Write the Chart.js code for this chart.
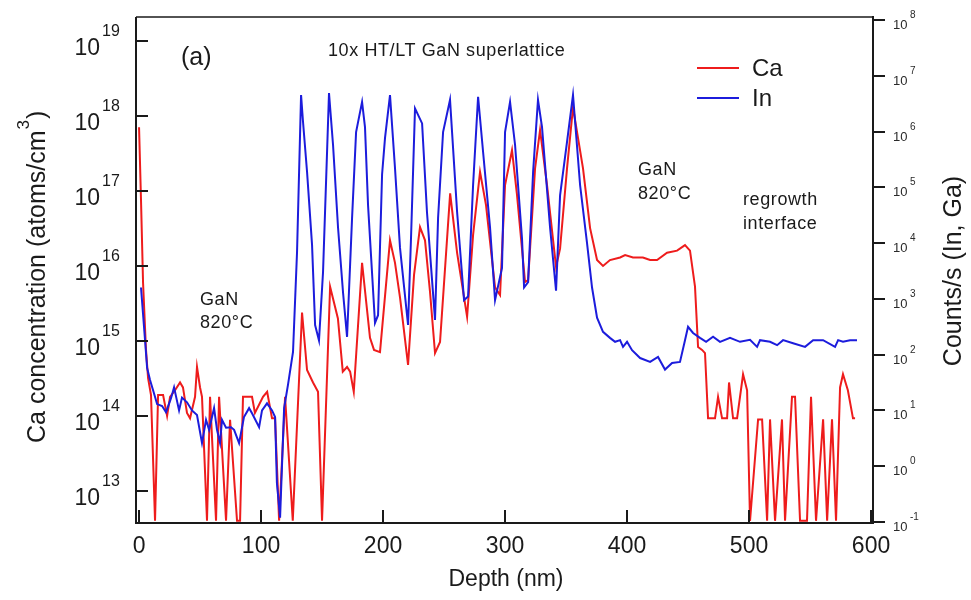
<!DOCTYPE html>
<html>
<head>
<meta charset="utf-8">
<script src="https://cdn.jsdelivr.net/npm/chart.js@4.4.1/dist/chart.umd.min.js"></script>
<style>
  html, body { margin: 0; padding: 0; background: #fff; }
  #wrap { width: 971px; height: 600px; }
</style>
</head>
<body>
<div id="wrap"><canvas id="sims" width="971" height="600"></canvas></div>
<script>
// --- data ---
const depthCa = [0, 1.6, 3.3, 5.7, 7.4, 9.8, 13.1, 15.6, 19.7, 23, 25.4, 29.5, 33.6, 36, 39.3, 41.8, 45.9, 47.5, 50, 51.6,
  55.7, 58.2, 63.1, 65.6, 71.3, 74.6, 80.3, 82.8, 85.2, 92.6, 95, 101.6, 105, 109, 111.5, 114.8, 119.7, 126,
  133.6, 137.7, 142.6, 146.7, 150, 156.6, 163, 167, 170.5, 173, 176, 182.8, 189.3, 192.6, 197.5, 205.7, 209.8, 214,
  220.5, 225.4, 230.3, 234.4, 238.5, 242.6, 246.7, 255, 260.7, 268.9, 273.8, 279.5, 284.4, 291.8, 295.9, 300, 305.7,
  309.8, 316.4, 318.9, 324.6, 328.7, 334.4, 341.8, 345.1, 350.8, 355.7, 363.9, 369.7, 375.4, 380.3, 386, 394.3, 398.4,
  404.9, 413, 418.9, 424.6, 432.8, 441, 447.5, 451.6, 455.7, 458.2, 461.5, 463.9, 466.4, 472.1, 474.6, 477.9, 482,
  483.6, 486.9, 490.2, 495.1, 498.4, 500.8, 507.4, 510.7, 514.8, 517.2, 521.3, 527, 529.5, 535.2, 537.7, 541.8, 547.5,
  550.8, 554.9, 560.7, 564, 568, 571.3, 574.6, 577, 581, 585.2, 586.9];
const caConc = [7.1e17, 7.6e16, 5.9e15, 7.6e14, 3.2e14, 1.9e14, 4e12, 1.9e14, 1.9e14, 1.0e14, 1.8e14, 2.2e14, 2.8e14, 2.4e14, 1.1e14, 9.3e13, 1.8e14, 4.5e14, 2.4e14, 1.8e14,
  4e12, 1.8e14, 4e12, 1.8e14, 4e12, 8.9e13, 4e12, 4e12, 1.8e14, 1.8e14, 1.1e14, 1.8e14, 2.1e14, 9.3e13, 9.3e13, 4e12, 1.8e14, 4e12,
  2.4e15, 4.1e14, 2.8e14, 2.1e14, 4e12, 5.3e15, 2.0e15, 3.9e14, 4.5e14, 3.9e14, 2.1e14, 1.1e16, 1.1e15, 7.6e14, 7.1e14, 2.2e16, 1.1e16, 3.7e15,
  4.8e14, 7.6e15, 3.3e16, 2.2e16, 4.5e15, 6.9e14, 9.7e14, 9.3e16, 1.5e16, 2.1e15, 2.6e16, 1.8e17, 6.5e16, 5.2e15, 4.1e15, 1.2e17, 3.5e17,
  8.9e16, 6.1e15, 6.5e15, 2.0e17, 6.5e17, 1.2e17, 9.7e15, 1.7e16, 2.0e17, 1.3e18, 2.0e17, 3.2e16, 1.2e16, 1.0e16, 1.2e16, 1.3e16, 1.4e16,
  1.3e16, 1.3e16, 1.2e16, 1.2e16, 1.5e16, 1.6e16, 1.9e16, 1.6e16, 5.3e15, 8.3e14, 7.6e14, 6.9e14, 9.3e13, 9.3e13, 1.8e14, 9.3e13, 9.3e13,
  2.8e14, 9.3e13, 9.3e13, 3.6e14, 2.2e14, 4e12, 9e13, 9e13, 4e12, 9e13, 4e12, 9e13, 4e12, 1.8e14, 1.8e14, 4e12, 4e12,
  1.8e14, 4e12, 9e13, 4e12, 9e13, 4e12, 2.4e14, 3.6e14, 2.2e14, 9.3e13, 9.3e13];

const depthIn = [1.6, 4.9, 6.6, 9, 11.5, 14.8, 18.9, 22.1, 26.2, 28.7, 32.8, 35.2, 39.3, 43.4, 47.5, 51.6, 54.9, 57.4, 61.5, 63.9,
  66.4, 68, 71.3, 75.4, 77.9, 82, 86, 90.2, 92.6, 98.4, 100.8, 104.9, 109, 111.5, 113, 115.6, 118.9, 122.1, 126.2, 129.5,
  132.8, 134.4, 137.7, 141.8, 144.3, 147.5, 150.8, 154.1, 155.7, 159, 163.1, 167.2, 170.5, 174.6, 177.9, 182.8, 185.2, 187.7,
  193.4, 195.9, 199.2, 201.6, 205.7, 209.8, 213.9, 220.5, 223, 226.2, 232, 236, 242.6, 245.1, 249.2, 254.9, 260.7, 266.4,
  269.7, 273.8, 277.9, 282, 287.7, 291.8, 297.5, 300, 304.1, 308.2, 313.9, 315.6, 318.9, 323, 327, 330.3, 336.9, 341.8,
  345.1, 350.8, 355.7, 361.5, 367.2, 371.3, 375.4, 380.3, 386, 390.2, 394.3, 396.7, 400, 404.1, 410.7, 418.9, 425.4, 431.1,
  436.9, 443.4, 447.5, 450, 454.1, 459.8, 464.8, 470.5, 476.2, 484.4, 492.6, 500.8, 506.6, 509, 517.2, 523, 527.9, 536.1,
  545.9, 552.5, 560.7, 570.5, 573, 577, 582.8, 588.5];
const inCounts = [1.6e3, 183, 58, 35, 23, 13, 12, 9.3, 16.6, 26, 10, 17, 14, 10, 8.3, 2.6, 6.8, 4.5, 11, 4.5,
  2.6, 6.8, 4.9, 5.0, 4.5, 2.6, 7.6, 11, 8.9, 5.0, 10, 13.4, 10, 7.6, 0.5, 0.12, 11, 29, 112, 6.9e3,
  4.5e6, 1.5e6, 1.9e5, 9.3e3, 340, 180, 3.0e3, 4.3e5, 4.9e6, 5.8e5, 1.9e4, 1.3e3, 208, 2.8e4, 9.8e5, 3.4e6, 1.2e6, 4.8e4,
  370, 510, 1.7e5, 7.6e5, 4.5e6, 2.2e5, 8.2e3, 340, 1.4e4, 2.6e6, 1.4e6, 3.6e4, 420, 2.8e4, 9.8e5, 3.7e6, 3.6e4, 950,
  1.1e3, 1.1e5, 4.2e6, 4.3e5, 1.9e4, 950, 3.6e3, 9.8e5, 3.4e6, 5.8e5, 1.2e4, 1.6e3, 2.0e3, 1.9e5, 3.7e6, 1.2e6, 1.9e4, 1.4e3,
  7.2e4, 6.5e5, 4.5e6, 1.1e5, 1.0e4, 1.6e3, 460, 257, 200, 170, 182, 138, 170, 120, 87, 74, 91, 54,
  71, 74, 182, 316, 245, 200, 170, 210, 170, 200, 170, 185, 138, 182, 170, 148, 182, 160,
  138, 182, 182, 138, 182, 170, 182, 182];

const xTicks = [0, 100, 200, 300, 400, 500, 600];
const caExp = [13, 14, 15, 16, 17, 18, 19];
const inExp = [-1, 0, 1, 2, 3, 4, 5, 6, 7, 8];

const FONT = '"Liberation Sans", Arial, sans-serif';
const INK = '#1a1a1a';

function put(ctx, s, x, y, size, align) {
  ctx.font = size + 'px ' + FONT;
  ctx.textAlign = align || 'left';
  ctx.fillText(s, x, y);
}

// frame, inward/outward ticks, power-of-ten labels, titles, notes, legend
const decorations = {
  id: 'decorations',
  afterDatasetsDraw(chart) {
    const { ctx, chartArea: a, scales } = chart;
    const sx = scales.x, yl = scales.yCa, yr = scales.yIn;
    ctx.save();
    ctx.fillStyle = INK; ctx.strokeStyle = INK;
    ctx.textBaseline = 'alphabetic';

    ctx.lineWidth = 1.5;
    ctx.beginPath(); ctx.moveTo(a.left, a.top); ctx.lineTo(a.right, a.top); ctx.stroke();
    ctx.lineWidth = 2;
    ctx.beginPath();
    ctx.moveTo(a.left, a.top); ctx.lineTo(a.left, a.bottom);
    ctx.lineTo(a.right, a.bottom); ctx.lineTo(a.right, a.top - 1);
    ctx.stroke();

    ctx.beginPath();
    xTicks.forEach(v => {
      const px = Math.round(sx.getPixelForValue(v));
      ctx.moveTo(px, a.bottom); ctx.lineTo(px, a.bottom - 13);
    });
    caExp.forEach(e => {
      const py = Math.round(yl.getPixelForValue(Math.pow(10, e)));
      ctx.moveTo(a.left, py); ctx.lineTo(a.left + 12, py);
    });
    inExp.forEach(e => {
      const py = Math.round(yr.getPixelForValue(Math.pow(10, e)));
      ctx.moveTo(a.right, py); ctx.lineTo(a.right + 12, py);
    });
    ctx.stroke();

    xTicks.forEach(v => put(ctx, String(v), sx.getPixelForValue(v), 553, 23, 'center'));
    caExp.forEach(e => {
      const py = yl.getPixelForValue(Math.pow(10, e));
      put(ctx, '10', 100, py + 14, 23, 'right');
      put(ctx, String(e), 102, py - 5, 16, 'left');
    });
    ctx.fillStyle = '#2a2a2a';
    inExp.forEach(e => {
      const py = yr.getPixelForValue(Math.pow(10, e));
      put(ctx, '10', 893, py + 9, 13, 'left');
      put(ctx, String(e), 910, py - 2, 10, 'left');
    });
    ctx.fillStyle = INK;

    // axis titles
    put(ctx, 'Depth (nm)', 506, 586, 23, 'center');

    ctx.save();
    ctx.translate(45, 443);
    ctx.rotate(-Math.PI / 2);
    ctx.font = '25px ' + FONT; ctx.textAlign = 'left';
    const t1 = 'Ca concentration (atoms/cm';
    ctx.fillText(t1, 0, 0);
    let w = ctx.measureText(t1).width;
    ctx.font = '17px ' + FONT;
    ctx.fillText('3', w + 1, -16);
    w += ctx.measureText('3').width + 2;
    ctx.font = '25px ' + FONT;
    ctx.fillText(')', w, 0);
    ctx.restore();

    ctx.save();
    ctx.translate(961, 271);
    ctx.rotate(-Math.PI / 2);
    put(ctx, 'Counts/s (In, Ga)', 0, 0, 25, 'center');
    ctx.restore();

    // annotations
    put(ctx, '(a)', 181, 65, 25, 'left');
    ctx.letterSpacing = '0.6px';
    put(ctx, '10x HT/LT GaN superlattice', 328, 56, 18, 'left');
    put(ctx, 'GaN', 200, 305, 18, 'left');
    put(ctx, '820°C', 200, 328, 18, 'left');
    put(ctx, 'GaN', 638, 175, 18, 'left');
    put(ctx, '820°C', 638, 199, 18, 'left');
    put(ctx, 'regrowth', 743, 205, 18, 'left');
    put(ctx, 'interface', 743, 229, 18, 'left');
    ctx.letterSpacing = '0px';

    // legend
    const legend = [['Ca', '#ee1c1c', 68, 76], ['In', '#1c1cdc', 98, 106]];
    legend.forEach(([lab, col, ly, by]) => {
      ctx.strokeStyle = col; ctx.lineWidth = 2;
      ctx.beginPath(); ctx.moveTo(697, ly); ctx.lineTo(739, ly); ctx.stroke();
      put(ctx, lab, 752, by, 24, 'left');
    });
    ctx.restore();
  }
};

const ctx = document.getElementById('sims').getContext('2d');
new Chart(ctx, {
  type: 'line',
  data: {
    datasets: [
      { label: 'In', data: depthIn.map((d, i) => ({ x: d, y: inCounts[i] })), yAxisID: 'yIn',
        borderColor: '#1c1cdc', borderWidth: 2, pointRadius: 0, tension: 0, order: 0 },
      { label: 'Ca', data: depthCa.map((d, i) => ({ x: d, y: caConc[i] })), yAxisID: 'yCa',
        borderColor: '#ee1c1c', borderWidth: 2, pointRadius: 0, tension: 0, order: 1 }
    ]
  },
  options: {
    responsive: false,
    animation: false,
    layout: { padding: { top: 17, left: 0, right: 0, bottom: 0 } },
    plugins: { legend: { display: false }, tooltip: { enabled: false } },
    scales: {
      x: {
        type: 'linear', min: -2.5, max: 601.6,
        ticks: { display: false }, grid: { display: false }, border: { display: false },
        afterFit: s => { s.height = 77; }
      },
      yCa: {
        type: 'logarithmic', position: 'left', min: 3.74e12, max: 2.09e19,
        ticks: { display: false }, grid: { display: false }, border: { display: false },
        afterFit: s => { s.width = 136; }
      },
      yIn: {
        type: 'logarithmic', position: 'right', min: 0.096, max: 1.13e8,
        ticks: { display: false }, grid: { display: false }, border: { display: false },
        afterFit: s => { s.width = 98; }
      }
    }
  },
  plugins: [decorations]
});
</script>
</body>
</html>
